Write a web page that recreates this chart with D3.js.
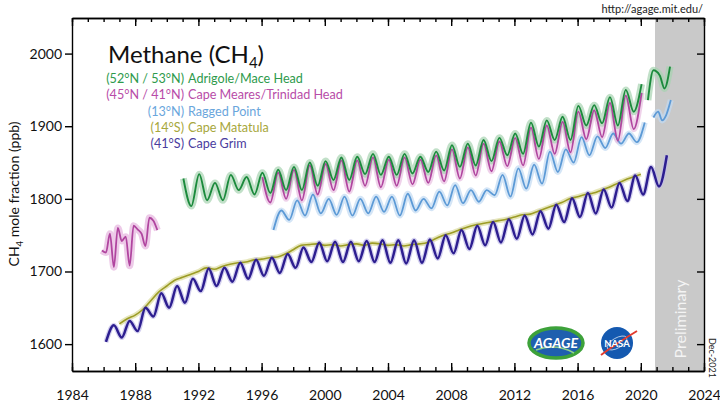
<!DOCTYPE html>
<html>
<head>
<meta charset="utf-8">
<script src="https://cdn.jsdelivr.net/npm/d3@7"></script>
<style>
  body { margin: 0; background: #fff; }
  svg { display: block; font-family: Lato, "Open Sans", sans-serif; }
</style>
</head>
<body>
<div id="chart"></div>
<script>
let width = 720,
    height = 406

// half-yearly extremes (ppb)
const grimStart = 1986.15, grimStep = 0.5
const grimValues = [1603,1626, 1609,1632, 1618,1650, 1638,1670, 1650,1680, 1657,1690,
  1673,1704, 1680,1705, 1686,1712, 1690,1716, 1694,1719, 1698,1724, 1705,1733,
  1713,1740, 1714,1741, 1713,1741, 1714,1742, 1713,1743, 1712,1743, 1711,1743,
  1712,1744, 1718,1750, 1725,1757, 1731,1763, 1736,1768, 1740,1772, 1745,1777,
  1751,1783, 1759,1792, 1768,1801, 1775,1808, 1780,1813, 1788,1822, 1797,1832,
  1806,1844, 1817,1860]

const matatulaStart = 1987.0, matatulaStep = 0.5
const matatulaValues = [1628,1635, 1640,1648, 1660,1672, 1680,1688, 1692,1696,
  1700,1705, 1703,1707, 1710,1712, 1713,1716, 1717,1719, 1720,1724, 1730,1736,
  1737,1738, 1736,1737, 1735,1737, 1738,1736, 1739,1738, 1736,1737, 1735,1737,
  1738,1740, 1745,1750, 1753,1757, 1761,1764, 1766,1768, 1770,1772, 1775,1778,
  1779,1783, 1787,1791, 1795,1800, 1803,1806, 1808,1812, 1816,1821, 1826,1830, 1834]

const raggedStart = 1996.75, raggedStep = 0.5
const raggedValues = [1757, 1784,1771, 1798,1777, 1806,1780, 1800,1778, 1803,1777,
  1800,1780, 1803,1782, 1803,1777, 1807,1784, 1800,1787, 1810,1791, 1819,1794,
  1812,1796, 1812,1805, 1833,1803, 1842,1814, 1847,1821, 1865,1837, 1868,1850,
  1885,1860, 1886,1870, 1890,1876, 1890,1878, 1905]
const raggedPrelim = [[2020.8,1912],[2021.1,1920],[2021.35,1908],[2021.6,1915],[2021.9,1936]]

const meresStart = 1985.9, meresStep = 0.25
const meresValues = [1729,1726,1752,1706,1760,1742,1748,1708,1763,1758,1752,1735,1774,1770,1757]

const trinidadStart = 1996.05, trinidadStep = 0.5
const trinidadValues = [1830,1795, 1836,1800, 1840,1798, 1846,1806, 1848,1812,
  1853,1810, 1853,1818, 1857,1816, 1854,1818, 1857,1820, 1854,1822, 1860,1824,
  1868,1828, 1871,1832, 1876,1838, 1879,1845, 1884,1846, 1898,1855, 1901,1862,
  1906,1864, 1920,1882, 1922,1885, 1932,1880, 1942,1896, 1946]

const maceStart = 1991.05, maceStep = 0.5
const maceValues = [1828,1790, 1834,1798, 1822,1798, 1833,1812, 1830,1806,
  1836,1808, 1840,1812, 1844,1812, 1850,1818, 1852,1826, 1857,1826, 1858,1834,
  1862,1833, 1858,1833, 1862,1835, 1858,1837, 1865,1839, 1874,1844, 1876,1846,
  1881,1852, 1884,1860, 1890,1862, 1905,1872, 1908,1881, 1913,1881, 1928,1901,
  1929,1904, 1940,1901, 1950,1920, 1958]
const macePrelim = [[2020.45,1936],[2020.8,1977],[2021.2,1970],[2021.5,1952],[2021.85,1982]]

const yTicks = [1600, 1700, 1800, 1900, 2000]
const xMajorTicks = [1984, 1988, 1992, 1996, 2000, 2004, 2008, 2012, 2016, 2020, 2024]
const preliminaryFrom = 2020.9

const legendLat = ["(52°N / 53°N)", "(45°N / 41°N)", "(13°N)", "(14°S)", "(41°S)"]
const legendName = ["Adrigole/Mace Head", "Cape Meares/Trinidad Head", "Ragged Point", "Cape Matatula", "Cape Grim"]
const legendColor = ["#2e9a4c", "#b84ca8", "#6aa6dc", "#a7a73c", "#4a3c9e"]

let x = d3.scaleLinear().domain([1984, 2024]).range([72, 704])
let y = d3.scaleLinear().domain([1563, 2049]).range([371, 18])

let svg = d3.select("#chart")
  .append("svg")
    .attr("width", width)
    .attr("height", height)

// preliminary band
svg.append("rect")
  .attr("x", x(preliminaryFrom))
  .attr("y", y(2049))
  .attr("width", x(2024) - x(preliminaryFrom))
  .attr("height", y(1563) - y(2049))
  .attr("fill", "#c9c9c9")

svg.append("text")
  .attr("transform", "translate(686,319) rotate(-90)")
  .attr("text-anchor", "middle")
  .attr("fill", "#f4f4f4")
  .style("font-size", "16px")
  .text("Preliminary")

function toPoints(start, step, values) {
  return values.map((v, i) => ({t: start + i * step, v: v}))
}
function pairs(arr) {
  return arr.map(d => ({t: d[0], v: d[1]}))
}

const line = d3.line()
  .defined(d => d.v != null)
  .x(d => x(d.t))
  .y(d => y(d.v))
  .curve(d3.curveMonotoneX)

const series = [
  {pts: toPoints(meresStart, meresStep, meresValues), color: "#b0459f", light: "#e6b3de", w: 7, sw: 1.8},
  {pts: toPoints(matatulaStart, matatulaStep, matatulaValues), color: "#9c9c26", light: "#dcdc9c", w: 5, sw: 1.6},
  {pts: toPoints(grimStart, grimStep, grimValues), color: "#2d1e90", light: "#c2bde8", w: 5, sw: 2.5},
  {pts: toPoints(raggedStart, raggedStep, raggedValues), color: "#5c9ad6", light: "#c2daf2", w: 6, sw: 1.8},
  {pts: pairs(raggedPrelim), color: "#5c9ad6", light: "#c2daf2", w: 6, sw: 1.8},
  {pts: toPoints(trinidadStart, trinidadStep, trinidadValues), color: "#b0459f", light: "#e8bfe1", w: 6, sw: 1.8},
  {pts: toPoints(maceStart, maceStep, maceValues), color: "#1b8a3c", light: "#a6d3b1", w: 7, sw: 1.9},
  {pts: pairs(macePrelim), color: "#1b8a3c", light: "#a6d3b1", w: 7, sw: 1.9}
]

let plot = svg.append("g")

plot.selectAll(".raw")
  .data(series)
  .enter()
  .append("path")
  .attr("class", "raw")
  .attr("d", d => line(d.pts))
  .attr("fill", "none")
  .attr("stroke", d => d.light)
  .attr("stroke-width", d => d.w)
  .attr("stroke-linejoin", "round")
  .style("opacity", 0.7)

plot.selectAll(".smooth")
  .data(series)
  .enter()
  .append("path")
  .attr("class", "smooth")
  .attr("d", d => line(d.pts))
  .attr("fill", "none")
  .attr("stroke", d => d.color)
  .attr("stroke-width", d => d.sw)
  .attr("stroke-linejoin", "round")

// axes
function styleAxis(g) {
  g.selectAll("path, line").attr("stroke", "#000").attr("stroke-width", 1.4)
  g.selectAll("text").attr("fill", "#111").style("font-size", "14px").style("font-family", "Lato, sans-serif")
}

svg.append("g")
  .attr("transform", `translate(0,${y(1563)})`)
  .call(d3.axisBottom(x).tickValues(d3.range(1984, 2025)).tickSize(-4).tickSizeOuter(0).tickFormat(""))
  .call(styleAxis)
svg.append("g")
  .attr("transform", `translate(0,${y(1563)})`)
  .call(d3.axisBottom(x).tickValues(xMajorTicks).tickSize(-8).tickSizeOuter(0).tickPadding(19).tickFormat(d3.format("d")))
  .call(styleAxis)

svg.append("g")
  .attr("transform", `translate(0,${y(2049)})`)
  .call(d3.axisTop(x).tickValues(d3.range(1984, 2025)).tickSize(-4).tickSizeOuter(0).tickFormat(""))
  .call(styleAxis)
svg.append("g")
  .attr("transform", `translate(0,${y(2049)})`)
  .call(d3.axisTop(x).tickValues(xMajorTicks).tickSize(-8).tickSizeOuter(0).tickFormat(""))
  .call(styleAxis)

svg.append("g")
  .attr("transform", `translate(${x(1984)},0)`)
  .call(d3.axisLeft(y).tickValues(yTicks).tickSize(7).tickSizeOuter(0).tickPadding(3).tickFormat(d3.format("d")))
  .call(styleAxis)

svg.append("g")
  .attr("transform", `translate(${x(2024)},0)`)
  .call(d3.axisRight(y).tickValues(yTicks).tickSize(-7).tickSizeOuter(0).tickFormat(""))
  .call(styleAxis)

// y title
let yt = svg.append("text")
  .attr("transform", "translate(19,194) rotate(-90)")
  .attr("text-anchor", "middle")
  .attr("fill", "#111")
  .style("font-size", "14px")
yt.append("tspan").text("CH")
yt.append("tspan").attr("dy", 4).style("font-size", "9.5px").text("4")
yt.append("tspan").attr("dy", -4).text(" mole fraction (ppb)")

// title
let title = svg.append("text")
  .attr("x", 108)
  .attr("y", 63)
  .attr("fill", "#111")
  .style("font-size", "24px")
title.append("tspan").text("Methane (CH")
title.append("tspan").attr("dy", 5).style("font-size", "15px").text("4")
title.append("tspan").attr("dy", -5).text(")")

// legend
const labelHeight = 16.3
let legend = svg.append("g").attr("transform", "translate(186,83)")
legend.selectAll(null)
  .data(legendLat)
  .enter()
  .append("text")
  .attr("x", -2)
  .attr("y", (d, i) => i * labelHeight)
  .attr("text-anchor", "end")
  .attr("fill", (d, i) => legendColor[i])
  .style("font-size", "12.6px")
  .text(d => d)
legend.selectAll(null)
  .data(legendName)
  .enter()
  .append("text")
  .attr("x", 2)
  .attr("y", (d, i) => i * labelHeight)
  .attr("fill", (d, i) => legendColor[i])
  .style("font-size", "12.6px")
  .text(d => d)

// url and date
svg.append("text")
  .attr("x", 703)
  .attr("y", 13)
  .attr("text-anchor", "end")
  .attr("fill", "#222")
  .style("font-size", "11px")
  .text("http://agage.mit.edu/")

svg.append("text")
  .attr("transform", "translate(709,358) rotate(90)")
  .attr("text-anchor", "middle")
  .attr("fill", "#222")
  .style("font-size", "9px")
  .text("Dec-2021")

// logos
let agage = svg.append("g").attr("transform", "translate(556,343)")
agage.append("ellipse").attr("rx", 27).attr("ry", 15).attr("fill", "#1f5fae").attr("stroke", "#3da23a").attr("stroke-width", 3.5)
agage.append("path").attr("d", "M-20,7 Q0,0 18,10").attr("fill", "none").attr("stroke", "#8fd18a").attr("stroke-width", 1.5)
agage.append("text")
  .attr("y", 4.5)
  .attr("text-anchor", "middle")
  .attr("fill", "#fff")
  .style("font-size", "14px")
  .style("font-weight", "bold")
  .style("font-style", "italic")
  .text("AGAGE")

let nasa = svg.append("g").attr("transform", "translate(617,343)")
nasa.append("circle").attr("r", 16).attr("fill", "#1459b0")
nasa.append("ellipse").attr("rx", 11).attr("ry", 5).attr("transform", "rotate(-30)").attr("fill", "none").attr("stroke", "#fff").attr("stroke-width", 0.6)
nasa.append("path").attr("d", "M-16,12 Q0,0 20,-12").attr("fill", "none").attr("stroke", "#e23b2e").attr("stroke-width", 2)
nasa.append("text")
  .attr("y", 3.5)
  .attr("text-anchor", "middle")
  .attr("fill", "#fff")
  .style("font-size", "9.5px")
  .style("font-weight", "bold")
  .text("NASA")
</script>
</body>
</html>
